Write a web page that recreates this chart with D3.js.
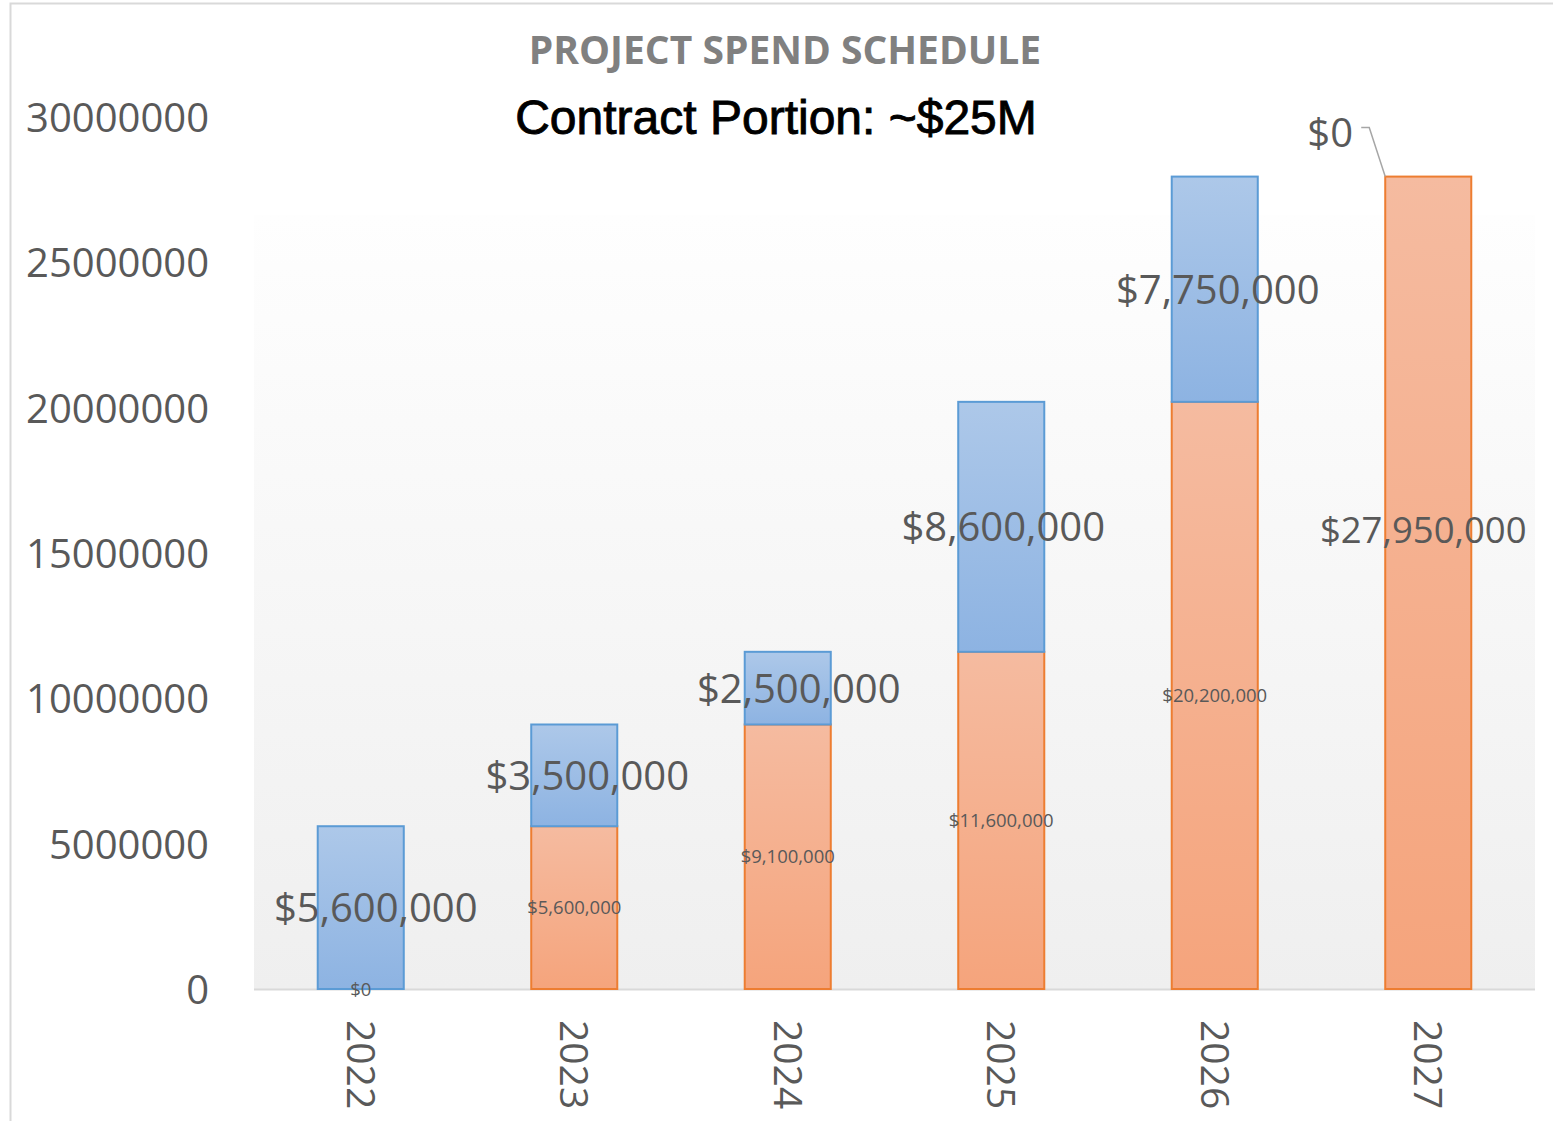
<!DOCTYPE html>
<html>
<head>
<meta charset="utf-8">
<script src="https://cdn.jsdelivr.net/npm/d3@7"></script>
<style>
  html, body { margin: 0; padding: 0; background: #ffffff; }
  svg { display: block; }
</style>
</head>
<body>
<svg id="chart" width="1553" height="1121"></svg>
<script>
// ---- data ----
const years = ["2022", "2023", "2024", "2025", "2026", "2027"];
const priorSpend = [0, 5600000, 9100000, 11600000, 20200000, 27950000];   // orange (cumulative prior)
const newSpend   = [5600000, 3500000, 2500000, 8600000, 7750000, 0];      // blue (added that year)
const yTicks = [0, 5000000, 10000000, 15000000, 20000000, 25000000, 30000000];
const chartTitle = "PROJECT SPEND SCHEDULE";
const chartSubtitle = "Contract Portion: ~$25M";

// ---- layout / style ----
const blueLabelNudge = [15, 13, 11, 2, 3, 0];   // horizontal label nudges (px)
const plot = { left: 254, right: 1535, top: 117, bottom: 989, bgTop: 215 };
const svg = d3.select("#chart");
const textColor = "#595959";
const labelFont = "'Open Sans', 'DejaVu Sans', sans-serif";

const defs = svg.append("defs");
function grad(id, c1, c2) {
  const g = defs.append("linearGradient").attr("id", id)
    .attr("x1", 0).attr("y1", 0).attr("x2", 0).attr("y2", 1);
  g.append("stop").attr("offset", "0%").attr("stop-color", c1);
  g.append("stop").attr("offset", "100%").attr("stop-color", c2);
}
grad("bgGrad", "#fefefe", "#efefef");
grad("blueGrad", "#adc8e9", "#8db3e2");
grad("orangeGrad", "#f5bba0", "#f5a47c");

// outer chart border
svg.append("rect").attr("x", 10.5).attr("y", 3.5).attr("width", 1600).attr("height", 1200)
  .attr("fill", "#fff").attr("stroke", "#d9d9d9").attr("stroke-width", 2);

// scales
const x = d3.scaleBand().domain(years).range([plot.left, plot.right])
  .paddingInner(0.597).paddingOuter(0.2985);
const y = d3.scaleLinear().domain([0, 30000000]).range([plot.bottom, plot.top]);

// plot background
svg.append("rect").attr("x", plot.left).attr("y", plot.bgTop)
  .attr("width", plot.right - plot.left).attr("height", plot.bottom - plot.bgTop)
  .attr("fill", "url(#bgGrad)");

// baseline
svg.append("line").attr("x1", plot.left).attr("x2", plot.right)
  .attr("y1", plot.bottom + 0.5).attr("y2", plot.bottom + 0.5)
  .attr("stroke", "#d9d9d9").attr("stroke-width", 2);

// y axis
const yAxis = svg.append("g").attr("transform", `translate(${209},0)`)
  .call(d3.axisLeft(y).tickValues(yTicks).tickFormat(d3.format("d")).tickSize(0).tickPadding(0));
yAxis.select(".domain").remove();
yAxis.selectAll("text").attr("fill", textColor)
  .style("font-family", labelFont).style("font-size", "40px")
  .attr("dy", "0.36em");

// x axis labels (rotated)
const xAxis = svg.append("g").attr("transform", `translate(0,${plot.bottom})`)
  .call(d3.axisBottom(x).tickSize(0).tickPadding(0));
xAxis.select(".domain").remove();
xAxis.selectAll("text")
  .attr("fill", textColor)
  .style("font-family", labelFont).style("font-size", "39px")
  .attr("text-anchor", "start")
  .attr("y", 0).attr("dy", "0.36em")
  .attr("transform", "translate(0,31) rotate(90)");

// stacked data
const rows = years.map((yr, i) => ({ year: yr, prior: priorSpend[i], add: newSpend[i] }));

const bars = svg.append("g");
// orange segments
bars.selectAll("rect.prior").data(rows).enter().append("rect")
  .attr("class", "prior")
  .attr("x", d => x(d.year)).attr("width", x.bandwidth())
  .attr("y", d => y(d.prior)).attr("height", d => y(0) - y(d.prior))
  .attr("fill", "url(#orangeGrad)")
  .attr("stroke", d => d.prior > 0 ? "#ed7d31" : "none").attr("stroke-width", 2);
// blue segments
bars.selectAll("rect.add").data(rows).enter().append("rect")
  .attr("class", "add")
  .attr("x", d => x(d.year)).attr("width", x.bandwidth())
  .attr("y", d => y(d.prior + d.add)).attr("height", d => y(d.prior) - y(d.prior + d.add))
  .attr("fill", "url(#blueGrad)")
  .attr("stroke", d => d.add > 0 ? "#5b9bd5" : "none").attr("stroke-width", 2);

const money = v => "$" + d3.format(",")(v);

// orange labels (small), centred in segment; last one shown large
const labels = svg.append("g").style("font-family", labelFont).attr("fill", textColor)
  .attr("text-anchor", "middle");
rows.forEach((d, i) => {
  const cx = x(d.year) + x.bandwidth() / 2;
  const isLast = i === rows.length - 1;
  if (!isLast) {
    labels.append("text").attr("x", cx).attr("y", y(d.prior / 2)).attr("dy", "0.36em")
      .style("font-size", "18.5px").text(money(d.prior));
  } else {
    labels.append("text").attr("x", cx - 5).attr("y", y(d.prior * 0.565)).attr("dy", "0.36em")
      .style("font-size", "36.5px").text(money(d.prior));
  }
});
// blue labels (large)
rows.forEach((d, i) => {
  const cx = x(d.year) + x.bandwidth() / 2;
  const top = y(d.prior + d.add);
  if (d.add > 0) {
    labels.append("text").attr("x", cx + blueLabelNudge[i]).attr("y", y(d.prior + d.add / 2)).attr("dy", "0.36em")
      .style("font-size", "40px").text(money(d.add));
  } else {
    // zero value: label placed up-left with a leader line to the bar top corner
    const bx = x(d.year), lx = bx - 55, ly = top - 44;
    labels.append("text").attr("x", lx).attr("y", ly).attr("dy", "0.36em")
      .style("font-size", "40px").text(money(d.add));
    svg.append("polyline")
      .attr("points", `${lx + 31},${ly - 5} ${lx + 39},${ly - 5} ${bx},${top}`)
      .attr("fill", "none").attr("stroke", "#a6a6a6").attr("stroke-width", 1.5);
  }
});

// titles
svg.append("text").attr("x", 785).attr("y", 64).attr("text-anchor", "middle")
  .style("font-family", labelFont).style("font-weight", 700).style("font-size", "39px")
  .attr("fill", "#808080").text(chartTitle);
svg.append("text").attr("x", 776).attr("y", 134).attr("text-anchor", "middle")
  .style("font-family", "'Liberation Sans', Arial, sans-serif").style("font-size", "48px")
  .attr("fill", "#000").attr("stroke", "#000").attr("stroke-width", 0.9)
  .text(chartSubtitle);
</script>
</body>
</html>
